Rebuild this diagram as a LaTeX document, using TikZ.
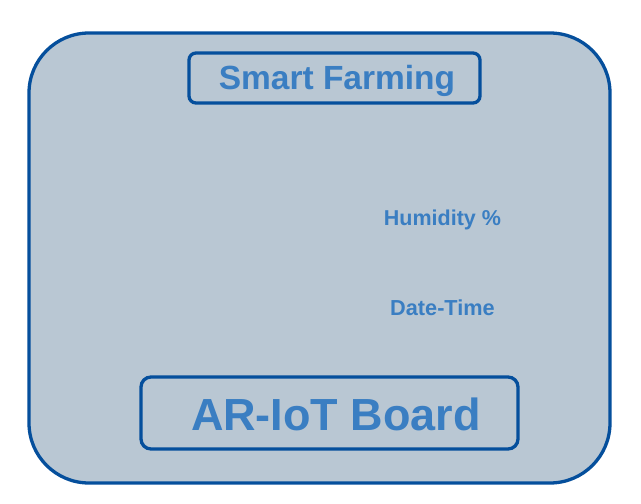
\documentclass[tikz,border=0pt]{standalone}
\usepackage{fontspec}
\setmainfont{Liberation Sans}
\definecolor{bgfill}{HTML}{B9C7D3}
\definecolor{edge}{HTML}{054F9C}
\definecolor{txt}{HTML}{3A7EC2}
\begin{document}
\begin{tikzpicture}[x=1pt,y=-1pt,
  panel/.style={draw=edge,line width=3.3pt,fill=bgfill},
  labelbox/.style={draw=edge,line width=3.3pt},
  lbl/.style={text=txt,font=\bfseries,inner sep=0pt,anchor=base}]
\useasboundingbox (0,0) rectangle (641,504);
\draw[panel,rounded corners=60pt] (29,33) rectangle (610,483);
\draw[labelbox,rounded corners=7pt] (189,53) rectangle (480,103);
\node[lbl,font=\fontsize{33.5}{36}\bfseries] (title) at (337,89) {Smart Farming};
\node[lbl,font=\fontsize{21.5}{24}\bfseries] (hum) at (442.5,225) {Humidity \%};
\node[lbl,font=\fontsize{21.7}{24}\bfseries] (dt) at (442.5,315) {Date-Time};
\draw[labelbox,rounded corners=10pt] (141,377) rectangle (518,449);
\node[lbl,font=\fontsize{45}{50}\bfseries] (board) at (336,430) {AR-IoT Board};
\end{tikzpicture}
\end{document}
